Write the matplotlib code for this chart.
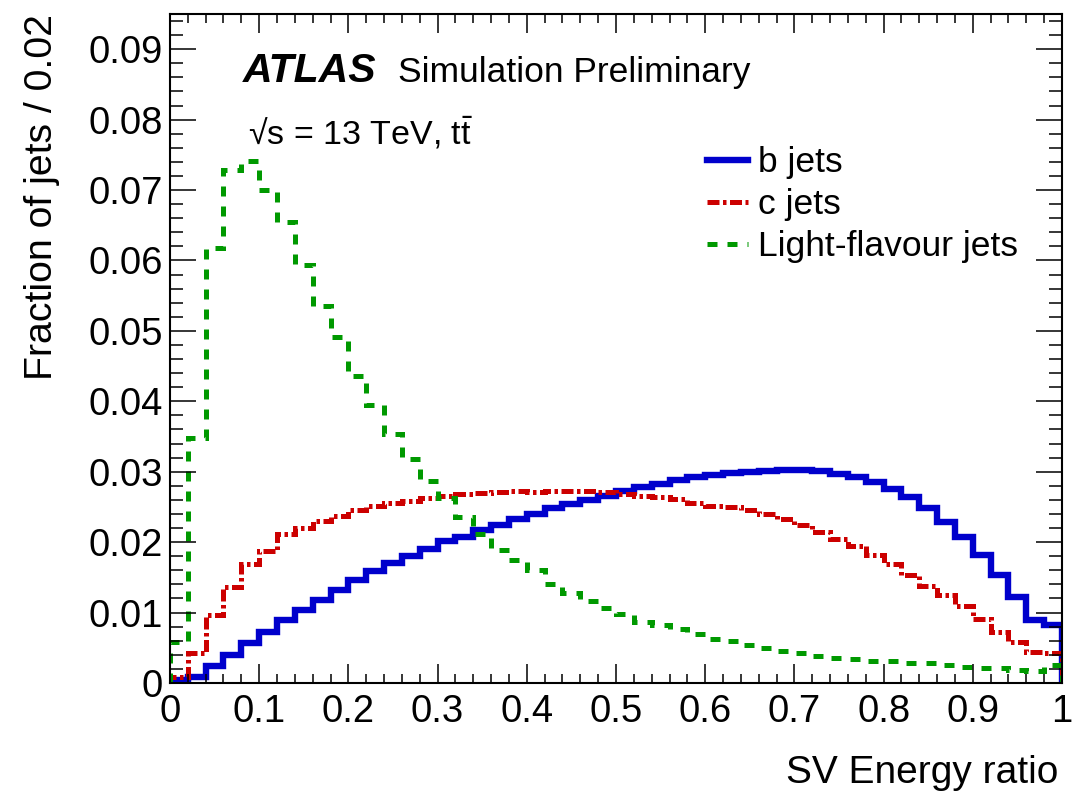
import numpy as np
import matplotlib
matplotlib.use('Agg')
import matplotlib.pyplot as plt
from matplotlib.ticker import MultipleLocator, FuncFormatter

plt.rcParams['font.family'] = ['Liberation Sans', 'DejaVu Sans']
plt.rcParams['mathtext.fontset'] = 'custom'
plt.rcParams['mathtext.rm'] = 'Liberation Sans'
plt.rcParams['mathtext.it'] = 'Liberation Sans:italic'

# 50 bins of width 0.02 between 0 and 1
bin_edges = np.linspace(0, 1, 51)

b_jets = [0.0004, 0.0009, 0.0024, 0.0040, 0.0057, 0.0073, 0.0089, 0.0104, 0.0118, 0.0132,
          0.0146, 0.0159, 0.0170, 0.0180, 0.0190, 0.0201, 0.0208, 0.0217, 0.0225, 0.0233,
          0.0240, 0.0248, 0.0254, 0.0260, 0.0266, 0.0272, 0.0278, 0.0283, 0.0288, 0.0292,
          0.0295, 0.0298, 0.0300, 0.0301, 0.0302, 0.0302, 0.0301, 0.0297, 0.0292, 0.0285,
          0.0276, 0.0264, 0.0248, 0.0229, 0.0208, 0.0182, 0.0154, 0.0122, 0.0090, 0.0083]

c_jets = [0.0008, 0.0043, 0.0096, 0.0137, 0.0169, 0.0188, 0.0211, 0.0220, 0.0230, 0.0237,
          0.0246, 0.0251, 0.0256, 0.0258, 0.0262, 0.0265, 0.0268, 0.0270, 0.0271, 0.0272,
          0.0271, 0.0273, 0.0272, 0.0272, 0.0271, 0.0268, 0.0266, 0.0264, 0.0261, 0.0256,
          0.0252, 0.0250, 0.0246, 0.0240, 0.0233, 0.0225, 0.0215, 0.0205, 0.0194, 0.0182,
          0.0169, 0.0154, 0.0138, 0.0125, 0.0109, 0.0091, 0.0073, 0.0058, 0.0044, 0.0043]

light_jets = [0.0058, 0.0348, 0.0617, 0.0728, 0.0741, 0.0700, 0.0654, 0.0594, 0.0535, 0.0492,
              0.0436, 0.0395, 0.0354, 0.0318, 0.0287, 0.0262, 0.0236, 0.0211, 0.0189, 0.0175,
              0.0160, 0.0141, 0.0128, 0.0116, 0.0106, 0.0098, 0.0087, 0.0082, 0.0076, 0.0069,
              0.0062, 0.0059, 0.0054, 0.0049, 0.0046, 0.0042, 0.0038, 0.0036, 0.0034, 0.0031,
              0.0031, 0.0029, 0.0028, 0.0026, 0.0023, 0.0022, 0.0022, 0.0019, 0.0017, 0.0025]

labels = ['b jets', 'c jets', 'Light-flavour jets']

fig = plt.figure(figsize=(10.84, 7.94), dpi=100)
ax = fig.add_axes([0.1568, 0.1398, 0.8229, 0.8426])

s = ax.stairs(b_jets, bin_edges, color='#0000cc', linewidth=4.6, label=labels[0])
s.set_joinstyle('miter')
s = ax.stairs(c_jets, bin_edges, color='#cc0000', linewidth=3.6,
              linestyle=(0, (2.4, 0.7, 0.7, 0.7)), label=labels[1])
s.set_joinstyle('miter')
s = ax.stairs(light_jets, bin_edges, color='#009900', linewidth=3.6,
              linestyle=(0, (2, 2)), label=labels[2])
s.set_joinstyle('miter')

ax.set_xlim(0, 1)
ax.set_ylim(0, 0.095)

fmt = FuncFormatter(lambda v, p: '%g' % round(v, 4))
ax.xaxis.set_major_locator(MultipleLocator(0.1))
ax.xaxis.set_minor_locator(MultipleLocator(0.02))
ax.yaxis.set_major_locator(MultipleLocator(0.01))
ax.yaxis.set_minor_locator(MultipleLocator(0.002))
ax.xaxis.set_major_formatter(fmt)
ax.yaxis.set_major_formatter(fmt)

ax.tick_params(which='both', direction='in', top=True, right=True, width=1.1, labelsize=27.5)
ax.tick_params(axis='x', which='major', length=13.7, pad=8)
ax.tick_params(axis='x', which='minor', length=6.8)
ax.tick_params(axis='y', which='major', length=18.7, pad=5)
ax.tick_params(axis='y', which='minor', length=9.4)
for sp in ax.spines.values():
    sp.set_linewidth(1.5)

ax.set_xlabel('SV Energy ratio', fontsize=28, loc='right')
ax.xaxis.label.set_va('center')
ax.xaxis.set_label_coords(0.996, -0.1345)
ax.set_ylabel('Fraction of jets / 0.02', fontsize=28.3, loc='top')
ax.yaxis.label.set_va('center')
ax.yaxis.set_label_coords(-0.1435, 1.0)

ax.text(0.0818, 0.898, 'ATLAS', transform=ax.transAxes, fontsize=29.5,
        fontweight='bold', fontstyle='italic', va='baseline')
ax.text(0.2556, 0.898, 'Simulation Preliminary', transform=ax.transAxes,
        fontsize=25.5, va='baseline')
ax.text(0.0875, 0.805, '√s = 13 TeV, $\\mathrm{t\\bar{t}}$',
        transform=ax.transAxes, fontsize=24.5, va='baseline')

ax.legend(loc='upper left', bbox_to_anchor=(0.602, 0.802), frameon=False,
          fontsize=25.5, borderpad=0, borderaxespad=0, handlelength=1.15,
          handletextpad=0.3, labelspacing=0.25)

fig.savefig('out.png', dpi=100)
